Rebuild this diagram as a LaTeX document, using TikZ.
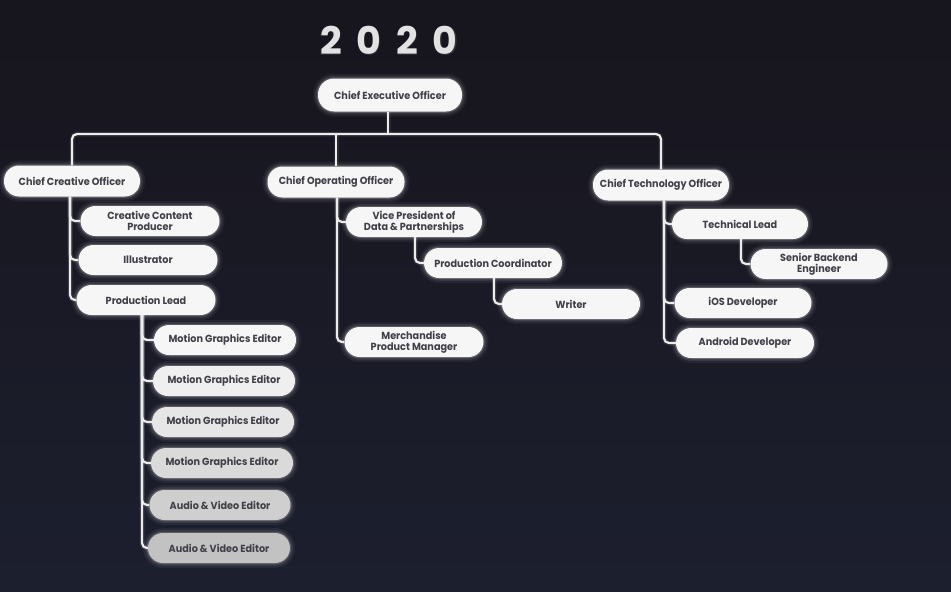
\documentclass[tikz,border=0pt]{standalone}
\usepackage{fontspec}
\setmainfont{Poppins}
\newfontfamily\boxfam{Poppins}[FakeStretch=0.94]
\newfontfamily\yearfam{Poppins}[LetterSpace=38]
\usetikzlibrary{calc}
\definecolor{bgtop}{HTML}{17151D}
\definecolor{bgbot}{HTML}{1C1F2E}
\definecolor{txt}{HTML}{404048}
\definecolor{linec}{HTML}{ECECEC}
\definecolor{yearc}{HTML}{E2E2E2}
\definecolor{f1}{HTML}{F6F6F6}
\definecolor{f2}{HTML}{EFEFEF}
\definecolor{f3}{HTML}{E6E6E6}
\definecolor{f4}{HTML}{DADADA}
\definecolor{f5}{HTML}{CFCFCF}
\definecolor{f6}{HTML}{C2C2C2}
\tikzset{
  box/.style={rectangle, rounded corners=15pt, minimum height=30pt,
    minimum width=137pt, inner sep=0pt, align=center, text=txt,
    font=\boxfam\bfseries\fontsize{10.3}{11}\selectfont,
    preaction={draw=white, line width=10pt, draw opacity=0.05},
    preaction={draw=white, line width=6pt, draw opacity=0.08},
    preaction={draw=white, line width=2.5pt, draw opacity=0.18},
    fill=f1},
  conn/.style={draw=linec, line width=2.2pt, rounded corners=5pt,
    preaction={draw=white, line width=5pt, draw opacity=0.07}},
}
\begin{document}
\begin{tikzpicture}[x=1pt, y=-1pt]
  % backdrop
  \shade[top color=bgtop, bottom color=bgbot] (0,0) rectangle (951,592);
  \useasboundingbox (0,0) rectangle (951,592);

  % heading
  \node[text=white, opacity=0.12, font=\yearfam\bfseries\fontsize{39}{40}\selectfont] at (389,41) {2020};
  \node[text=yearc, font=\yearfam\bfseries\fontsize{38}{40}\selectfont] (year) at (389,40) {2020};

  % executive level
  \node[box, minimum width=144pt, minimum height=33pt, rounded corners=16pt] (ceo) at (390,95) {Chief Executive Officer};
  \node[box, minimum width=136pt, minimum height=31pt] (cco) at (72,181) {Chief Creative Officer};
  \node[box, minimum width=137pt, minimum height=31pt] (coo) at (336,182) {Chief Operating Officer};
  \node[box, minimum width=136pt, minimum height=31pt] (cto) at (661,185) {Chief Technology Officer};

  % creative branch
  \node[box, minimum width=139pt] (ccp) at (150,221) {Creative Content\\Producer};
  \node[box, minimum width=139pt] (ill) at (148,260) {Illustrator};
  \node[box, minimum width=139pt] (pl)  at (146,300) {Production Lead};
  \node[box, minimum width=142pt] (mg1) at (225,340) {Motion Graphics Editor};
  \node[box, minimum width=142pt, fill=f2] (mg2) at (224,381) {Motion Graphics Editor};
  \node[box, minimum width=142pt, fill=f3] (mg3) at (223,422) {Motion Graphics Editor};
  \node[box, minimum width=142pt, fill=f4] (mg4) at (222,463) {Motion Graphics Editor};
  \node[box, minimum width=141pt, fill=f5] (av1) at (220,505) {Audio \& Video Editor};
  \node[box, minimum width=142pt, fill=f6] (av2) at (219,548) {Audio \& Video Editor};

  % operating branch
  \node[box, minimum width=136pt] (vp)  at (414,222) {Vice President of\\Data \& Partnerships};
  \node[box, minimum width=138pt] (pc)  at (493,263) {Production Coordinator};
  \node[box, minimum width=138pt] (wr)  at (571,304) {Writer};
  \node[box, minimum width=139pt] (mpm) at (414,342) {Merchandise\\Product Manager};

  % technology branch
  \node[box, minimum width=136pt] (tl)  at (740,224) {Technical Lead};
  \node[box, minimum width=137pt] (sbe) at (819,264) {Senior Backend\\Engineer};
  \node[box, minimum width=137pt] (ios) at (743,303) {iOS Developer};
  \node[box, minimum width=138pt] (and) at (745,343) {Android Developer};

  % trunk positions
  \coordinate (bus) at (388,134);
  \coordinate (tc) at (70,0);
  \coordinate (tp) at (142,0);
  \coordinate (to) at (337,0);
  \coordinate (tv) at (415,0);
  \coordinate (tw) at (494,0);
  \coordinate (tt) at (664,0);
  \coordinate (ts) at (741,0);

  % executive bus
  \draw[conn] (ceo.south -| bus) -- (bus);
  \draw[conn] (cco.north) |- (bus) -| (cto.north);
  \draw[conn] (coo.north) -- (coo.north |- bus);

  % creative links
  \foreach \n in {ccp,ill,pl} \draw[conn] (tc |- cco.south) |- (\n.west);
  \foreach \n in {mg1,mg2,mg3,mg4,av1,av2} \draw[conn] (tp |- pl.south) |- (\n.west);

  % operating links
  \foreach \n in {vp,mpm} \draw[conn] (to |- coo.south) |- (\n.west);
  \draw[conn] (tv |- vp.south) |- (pc.west);
  \draw[conn] (tw |- pc.south) |- (wr.west);

  % technology links
  \foreach \n in {tl,ios,and} \draw[conn] (tt |- cto.south) |- (\n.west);
  \draw[conn] (ts |- tl.south) |- (sbe.west);
\end{tikzpicture}
\end{document}
